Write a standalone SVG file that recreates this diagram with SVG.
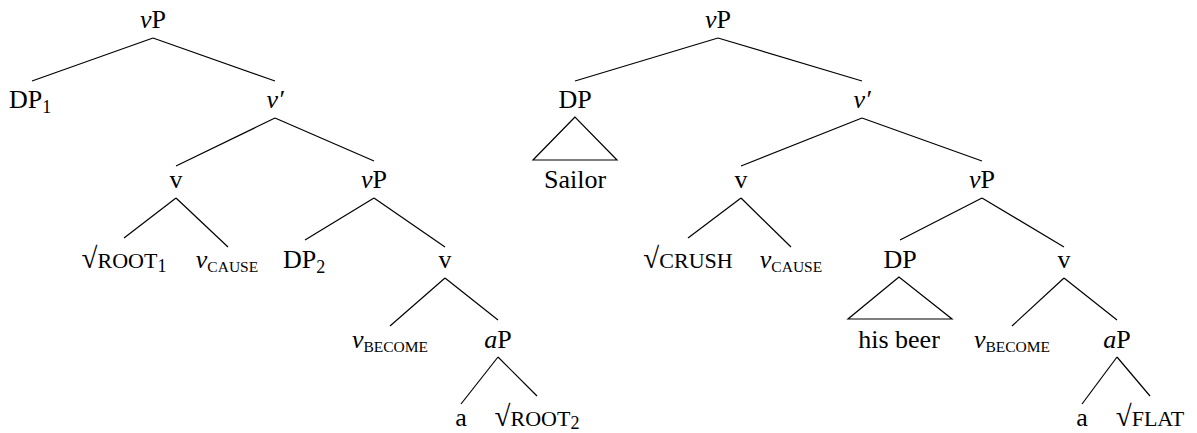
<svg xmlns="http://www.w3.org/2000/svg" width="1197" height="433" viewBox="0 0 1197 433">
<style>
text{font-family:"Liberation Serif","Times New Roman",serif;font-size:26px;fill:#000;text-anchor:middle}
.i{font-style:italic}
.rad{font-size:29px}
.sc{font-size:22px}
.sub{font-size:15.5px}
.num{font-size:18px}
.edges line,.edges polygon{stroke:#000;stroke-width:1.2;fill:none}
</style>
<rect width="1197" height="433" fill="#fff"/>
<g class="edges" id="connectors">
<line x1="153" y1="38" x2="32" y2="81"/>
<line x1="153" y1="38" x2="275" y2="81"/>
<line x1="275" y1="118" x2="176" y2="166"/>
<line x1="275" y1="118" x2="374" y2="161"/>
<line x1="176" y1="198" x2="124" y2="238"/>
<line x1="176" y1="198" x2="228" y2="247"/>
<line x1="374" y1="198" x2="305" y2="240"/>
<line x1="374" y1="198" x2="445" y2="247"/>
<line x1="445" y1="278" x2="390" y2="326"/>
<line x1="445" y1="278" x2="498" y2="320"/>
<line x1="498" y1="357" x2="461" y2="404"/>
<line x1="498" y1="357" x2="537" y2="396"/>
<line x1="718" y1="38" x2="575" y2="81"/>
<line x1="718" y1="38" x2="862" y2="81"/>
<polygon points="575,117 533,160 617,160"/>
<line x1="862" y1="118" x2="741" y2="166"/>
<line x1="862" y1="118" x2="982" y2="161"/>
<line x1="741" y1="198" x2="688" y2="238"/>
<line x1="741" y1="198" x2="791" y2="247"/>
<line x1="982" y1="198" x2="900" y2="240"/>
<line x1="982" y1="198" x2="1064" y2="247"/>
<polygon points="899,277 848,319 952,319"/>
<line x1="1064" y1="278" x2="1012" y2="326"/>
<line x1="1064" y1="278" x2="1117" y2="320"/>
<line x1="1117" y1="357" x2="1082" y2="404"/>
<line x1="1117" y1="357" x2="1150" y2="396"/>
</g>
<g id="L-vP"><text x="153" y="28"><tspan class="i">v</tspan>P</text></g>
<g id="L-DP1"><text x="30" y="108">DP<tspan class="num" dy="5">1</tspan></text></g>
<g id="L-vbar"><text x="275" y="108" class="i">v′</text></g>
<g id="L-v1"><text x="176" y="188">v</text></g>
<g id="L-vP2"><text x="374" y="188"><tspan class="i">v</tspan>P</text></g>
<g id="L-root1"><text x="124" y="268"><tspan class="rad">√</tspan><tspan class="sc">ROOT</tspan><tspan class="num" dy="4">1</tspan></text></g>
<g id="L-vcause"><text x="227" y="268"><tspan class="i">v</tspan><tspan class="sub" dy="4">CAUSE</tspan></text></g>
<g id="L-DP2"><text x="304" y="268">DP<tspan class="num" dy="5">2</tspan></text></g>
<g id="L-v2"><text x="445" y="268">v</text></g>
<g id="L-vbecome"><text x="390" y="348"><tspan class="i">v</tspan><tspan class="sub" dy="4">BECOME</tspan></text></g>
<g id="L-aP"><text x="498" y="348"><tspan class="i">a</tspan>P</text></g>
<g id="L-a"><text x="461" y="426">a</text></g>
<g id="L-root2"><text x="537" y="426"><tspan class="rad">√</tspan><tspan class="sc">ROOT</tspan><tspan class="num" dy="3">2</tspan></text></g>
<g id="R-vP"><text x="718" y="28"><tspan class="i">v</tspan>P</text></g>
<g id="R-DP"><text x="575" y="108">DP</text></g>
<g id="R-sailor"><text x="575" y="188">Sailor</text></g>
<g id="R-vbar"><text x="862" y="108" class="i">v′</text></g>
<g id="R-v1"><text x="741" y="188">v</text></g>
<g id="R-vP2"><text x="982" y="188"><tspan class="i">v</tspan>P</text></g>
<g id="R-crush"><text x="688" y="268"><tspan class="rad">√</tspan><tspan class="sc">CRUSH</tspan></text></g>
<g id="R-vcause"><text x="791" y="268"><tspan class="i">v</tspan><tspan class="sub" dy="4">CAUSE</tspan></text></g>
<g id="R-DP2"><text x="900" y="268">DP</text></g>
<g id="R-hisbeer"><text x="899" y="348">his beer</text></g>
<g id="R-v2"><text x="1064" y="268">v</text></g>
<g id="R-vbecome"><text x="1012" y="348"><tspan class="i">v</tspan><tspan class="sub" dy="4">BECOME</tspan></text></g>
<g id="R-aP"><text x="1117" y="348"><tspan class="i">a</tspan>P</text></g>
<g id="R-a"><text x="1082" y="426">a</text></g>
<g id="R-flat"><text x="1150" y="426"><tspan class="rad">√</tspan><tspan class="sc">FLAT</tspan></text></g>
</svg>
